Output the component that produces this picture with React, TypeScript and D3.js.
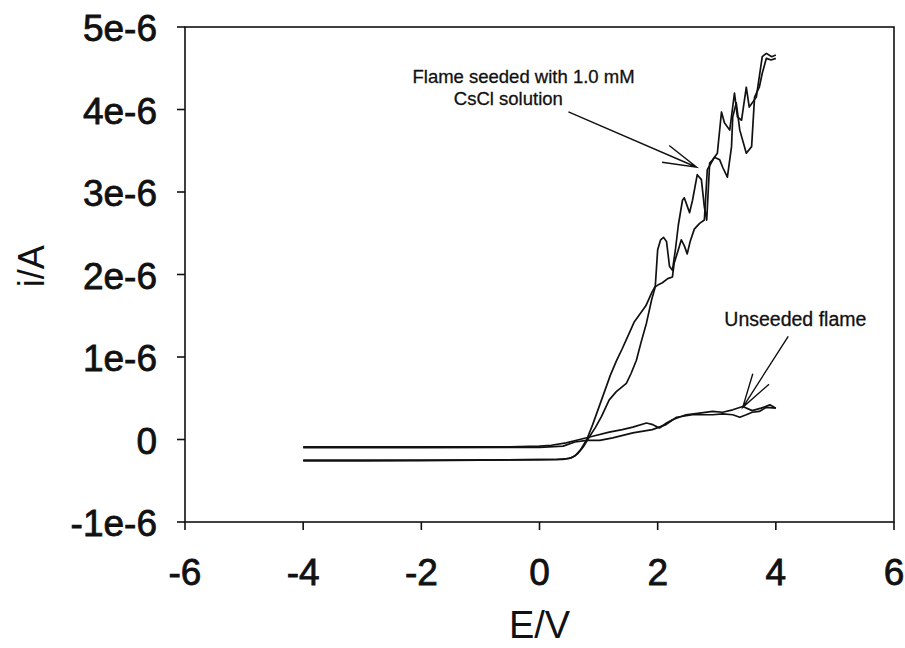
import React from 'react';
import * as d3 from 'd3';

// axis ticks
const xTicks = [-6, -4, -2, 0, 2, 4, 6];
const yTicks = [-1e-6, 0, 1e-6, 2e-6, 3e-6, 4e-6, 5e-6];
const yTickLabels = ['-1e-6', '0', '1e-6', '2e-6', '3e-6', '4e-6', '5e-6'];

// flame seeded with 1.0 mM CsCl, current in µA (forward sweep)
const seededFwdE = [-4, -3, -2, -1, 0, 0.3, 0.5, 0.6, 0.7, 0.8, 0.9, 1.0, 1.1, 1.2, 1.3, 1.4, 1.5, 1.6, 1.7, 1.8, 1.9, 1.96, 2.0, 2.05, 2.1, 2.15, 2.2, 2.25, 2.3, 2.35, 2.42, 2.45, 2.54, 2.59, 2.67, 2.74, 2.79, 2.83, 2.88, 2.93, 3.01, 3.08, 3.13, 3.22, 3.3, 3.35, 3.42, 3.5, 3.55, 3.67, 3.77, 3.84, 3.93, 4.0];
const seededFwdI = [-0.26, -0.26, -0.255, -0.25, -0.245, -0.24, -0.23, -0.2, -0.12, 0.0, 0.18, 0.38, 0.58, 0.78, 0.95, 1.1, 1.26, 1.42, 1.52, 1.62, 1.78, 1.86, 2.3, 2.42, 2.45, 2.4, 2.1, 2.05, 2.3, 2.6, 2.9, 2.93, 2.75, 2.9, 3.21, 3.15, 2.82, 2.66, 3.35, 3.39, 3.47, 3.97, 3.84, 3.75, 4.2, 3.91, 3.87, 4.27, 4.03, 4.15, 4.64, 4.68, 4.64, 4.66];

// seeded, reverse sweep
const seededRevE = [-4, -2, 0, 0.4, 0.55, 0.65, 0.75, 0.85, 0.95, 1.05, 1.18, 1.3, 1.47, 1.55, 1.64, 1.72, 1.81, 1.9, 1.96, 2.02, 2.08, 2.17, 2.25, 2.28, 2.35, 2.4, 2.45, 2.5, 2.55, 2.62, 2.71, 2.79, 2.84, 2.96, 3.05, 3.1, 3.18, 3.25, 3.27, 3.33, 3.39, 3.5, 3.59, 3.64, 3.72, 3.77, 3.84, 3.92, 4.0];
const seededRevI = [-0.25, -0.25, -0.245, -0.24, -0.22, -0.17, -0.08, 0.04, 0.15, 0.28, 0.48, 0.58, 0.68, 0.8, 0.96, 1.18, 1.41, 1.7, 1.85, 1.88, 1.9, 1.95, 1.97, 2.14, 2.3, 2.42, 2.35, 2.25, 2.4, 2.55, 2.62, 2.66, 3.27, 3.42, 3.39, 3.3, 3.18, 3.55, 3.91, 4.08, 3.75, 3.47, 3.55, 4.15, 4.27, 4.44, 4.62, 4.6, 4.62];

// unseeded flame, both sweeps
const unseededAE = [-4, -2, -0.5, 0, 0.2, 0.45, 0.68, 0.9, 1.18, 1.4, 1.58, 1.81, 1.92, 2.03, 2.15, 2.25, 2.48, 2.71, 2.93, 3.1, 3.27, 3.44, 3.6, 3.75, 3.9, 4.0];
const unseededAI = [-0.09, -0.09, -0.09, -0.08, -0.07, -0.04, 0.0, 0.04, 0.09, 0.12, 0.15, 0.2, 0.18, 0.14, 0.2, 0.24, 0.3, 0.32, 0.34, 0.33, 0.36, 0.4, 0.35, 0.38, 0.42, 0.38];
const unseededBE = [-4, -2, 0, 0.4, 0.6, 0.8, 1.02, 1.24, 1.58, 1.91, 2.14, 2.32, 2.59, 2.93, 3.1, 3.27, 3.39, 3.5, 3.6, 3.72, 3.84, 4.0];
const unseededBI = [-0.1, -0.1, -0.095, -0.08, -0.03, -0.01, -0.01, 0.02, 0.08, 0.12, 0.18, 0.27, 0.3, 0.3, 0.31, 0.3, 0.27, 0.3, 0.33, 0.34, 0.39, 0.38];

const App = () => {
    const width = 905;
    const height = 648;
    const margin = { top: 27, right: 11, bottom: 126, left: 185 };
    const font = '"Liberation Sans", Arial, sans-serif';

    const x = d3.scaleLinear().domain([-6, 6]).range([margin.left, width - margin.right]);
    const y = d3.scaleLinear().domain([-1e-6, 5e-6]).range([height - margin.bottom, margin.top]);

    const line = d3.line<[number, number]>()
        .x(d => x(d[0]))
        .y(d => y(d[1] * 1e-6));

    const series = [
        seededFwdE.map((e, i) => [e, seededFwdI[i]] as [number, number]),
        seededRevE.map((e, i) => [e, seededRevI[i]] as [number, number]),
        unseededAE.map((e, i) => [e, unseededAI[i]] as [number, number]),
        unseededBE.map((e, i) => [e, unseededBI[i]] as [number, number])
    ];

    // arrow from tail to tip (data coords), open V head
    const arrow = (tail: [number, number], tip: [number, number], len = 35, spread = 15) => {
        const x0 = x(tail[0]), y0 = y(tail[1] * 1e-6);
        const x1 = x(tip[0]), y1 = y(tip[1] * 1e-6);
        const a = Math.atan2(y0 - y1, x0 - x1);
        const s = spread * Math.PI / 180;
        const h1 = [x1 + len * Math.cos(a + s), y1 + len * Math.sin(a + s)];
        const h2 = [x1 + len * Math.cos(a - s), y1 + len * Math.sin(a - s)];
        return `M${x0},${y0}L${x1},${y1}M${h1[0]},${h1[1]}L${x1},${y1}L${h2[0]},${h2[1]}`;
    };

    const x0 = margin.left, x1 = width - margin.right;
    const y0 = margin.top, y1 = height - margin.bottom;

    const tickText = { fontFamily: font, fontSize: 37, fill: '#111', stroke: '#111', strokeWidth: 0.8 };

    return (
        <svg width={width} height={height} style={{ position: 'absolute', left: 0, top: 0, background: '#fff' }}>
            <rect x="0" y="0" width={width} height={height} fill="#fff" />
            {/* frame */}
            <rect x={x0} y={y0} width={x1 - x0} height={y1 - y0} fill="none" stroke="#111" strokeWidth="1.6" />

            {xTicks.map(t => (
                <g key={`xt-${t}`}>
                    <line x1={x(t)} x2={x(t)} y1={y1} y2={y1 + 8} stroke="#111" strokeWidth="1.6" />
                    <text x={x(t)} y={y1 + 63} textAnchor="middle" {...tickText}>{t}</text>
                </g>
            ))}
            {yTicks.map((t, i) => (
                <g key={`yt-${i}`}>
                    <line x1={x0 - 8} x2={x0} y1={y(t)} y2={y(t)} stroke="#111" strokeWidth="1.6" />
                    <text x={x0 - 28} y={y(t) + 14} textAnchor="end" {...tickText}>{yTickLabels[i]}</text>
                </g>
            ))}

            <text x={x(0)} y={638} textAnchor="middle" fontFamily={font} fontSize="38" fill="#111">E/V</text>
            <text transform={`translate(44, ${y(2.1e-6)}) rotate(-90)`} textAnchor="middle" fontFamily={font} fontSize="36" fill="#111">i/A</text>

            {series.map((s, i) => (
                <path key={`s-${i}`} d={line(s) || ''} fill="none" stroke="#111" strokeWidth="1.7" strokeLinejoin="round" />
            ))}

            {/* annotations */}
            <text x={x(-2.15)} y={y(4.32e-6)} fontFamily={font} fontSize="18.5" fill="#111" stroke="#111" strokeWidth="0.3">Flame seeded with 1.0 mM</text>
            <text x={x(-1.45)} y={y(4.05e-6)} fontFamily={font} fontSize="18.5" fill="#111" stroke="#111" strokeWidth="0.3">CsCl solution</text>
            <path d={arrow([0.49, 3.97], [2.66, 3.3])} fill="none" stroke="#111" strokeWidth="1.4" />

            <text x={x(4.33)} y={y(1.38e-6)} textAnchor="middle" fontFamily={font} fontSize="19.5" fill="#111" stroke="#111" strokeWidth="0.3">Unseeded flame</text>
            <path d={arrow([4.21, 1.25], [3.44, 0.39], 35, 16)} fill="none" stroke="#111" strokeWidth="1.4" />
        </svg>
    );
};

export default App;
